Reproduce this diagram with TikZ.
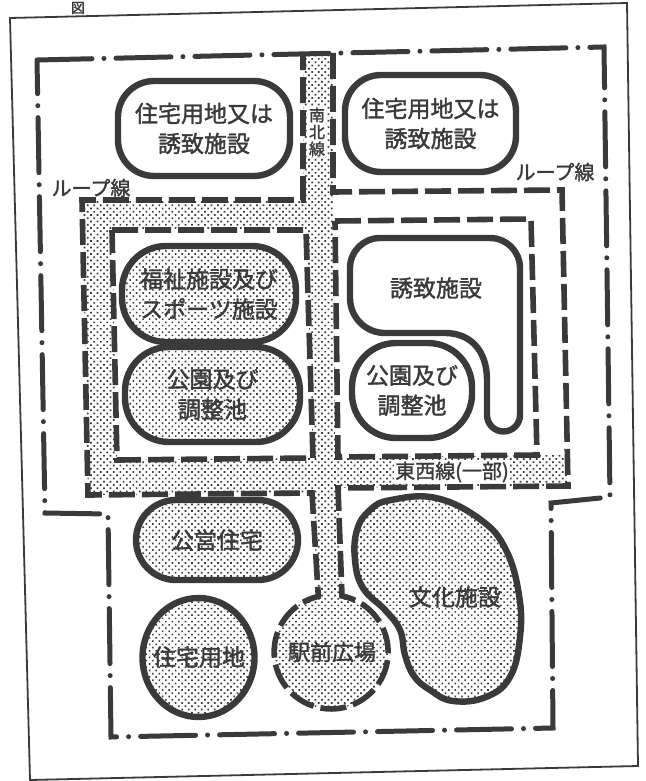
\documentclass[tikz,border=0pt]{standalone}
\usepackage{fontspec}
\newfontfamily\jp[FakeBold=1.6]{Noto Sans CJK JP}
\usetikzlibrary{patterns.meta}
\definecolor{ink}{RGB}{58,58,58}

\begin{document}
\begin{tikzpicture}[x=0.5pt, y=-0.5pt, ink, font=\jp,
        frame/.style={line width=0.9pt},
        boundary/.style={line width=2.5pt, line cap=round, dash pattern=on 27.5pt off 6pt on 0pt off 6pt},
        roadedge/.style={line width=2.8pt, dash pattern=on 13pt off 3.5pt},
        dotfill/.style={pattern={Dots[distance=2.3pt, radius=0.6pt, angle=45]}, pattern color=ink},
        lotbox/.style={draw, line width=3.2pt, align=center, inner sep=0pt, font=\jp\fontsize{11.5}{15}\selectfont},
        lottext/.style={align=center, inner sep=0pt, font=\jp\fontsize{11.5}{15}\selectfont},
        roadname/.style={inner sep=0.5pt, font=\jp\fontsize{10}{12}\selectfont}]

    \useasboundingbox (0,0) rectangle (645,781);

    % page frame and cut title
    \draw[frame] (10,18) -- (627,3) -- (638,766) -- (30,780) -- cycle;
    \node[inner sep=0pt, font=\jp\fontsize{7}{7}\selectfont] (title) at (78,8) {図};

    % roads (dotted)
    \path[dotfill, even odd rule]
        (303,54) -- (333,53) -- (335,457) -- (568,455) -- (568,486) -- (338,488) -- (342,596)
        -- (318,596) -- (312,493) -- (88,495) -- (82,200) -- (303,200) -- cycle
        (112,230) -- (306,230) -- (313,458) -- (117,460) -- cycle;
    \path[dotfill] (331,652) circle[radius=57];

    % road edges
    \draw[roadedge] (333,53) -- (333,192) -- (562,190) -- (568,486) -- (338,488) -- (342,596)
        arc[start angle=-79, end angle=257, radius=57] -- (312,493) -- (88,495) -- (82,200)
        -- (303,200) -- (303,54);
    \draw[roadedge] (112,230) -- (306,230) -- (313,458) -- (117,460) -- cycle;
    \draw[roadedge] (335,221) -- (531,219) -- (537,455) -- (338,457) -- cycle;

    % area boundary
    \draw[boundary] (37,60) -- (604,47) -- (610,497) -- (551,503) -- (553,728) -- (111,737)
        -- (108,514) -- (45,513) -- cycle;

    % lots
    \node[lotbox, fill=white, rounded corners=18pt, minimum width=86pt, minimum height=47.5pt] (homeW) at (204,128.5) {住宅用地又は\\誘致施設};
    \node[lotbox, fill=white, rounded corners=18pt, minimum width=85.5pt, minimum height=48.5pt] (homeE) at (430.5,123.5) {住宅用地又は\\誘致施設};
    \node[lotbox, dotfill, rounded corners=22pt, minimum width=87pt, minimum height=48pt] (welfare) at (209,294) {福祉施設及び\\スポーツ施設};
    \node[lotbox, dotfill, rounded corners=22pt, minimum width=87.5pt, minimum height=47.5pt] (parkW) at (212.5,394.5) {公園及び\\調整池};
    \node[lotbox, fill=white, rounded corners=22pt, minimum width=60pt, minimum height=47.5pt] (parkE) at (412,390.5) {公園及び\\調整池};
    \node[lotbox, dotfill, rounded corners=20pt, minimum width=81pt, minimum height=40pt] (public) at (217,540) {公営住宅};

    \draw[line width=3.2pt, fill=white] (350,298) -- (350,268) arc[start angle=180, end angle=270, radius=30]
        -- (490,238) arc[start angle=270, end angle=360, radius=30] -- (520,415)
        arc[start angle=0, end angle=180, radius=16.5] -- (487,380) .. controls (487,350) and (470,333) .. (445,333)
        -- (385,333) arc[start angle=90, end angle=180, radius=35] -- cycle;
    \node[lottext] (attract) at (436,288) {誘致施設};

    \draw[line width=3.2pt, dotfill] plot[smooth cycle, tension=0.7] coordinates {(391,500) (436,498) (481,520)
        (506,550) (519,595) (520,637) (510,677) (486,697) (453,701) (430,690) (414,676) (405,655)
        (400,630) (385,610) (363,588) (355,560) (357,530) (370,510)};
    \node[lottext] (culture) at (455,597) {文化施設};

    \draw[line width=3.2pt, dotfill] (198.5,657.5) ellipse[x radius=56, y radius=59.5];
    \node[lottext] (homeland) at (199,657) {住宅用地};
    \node[lottext, font=\jp\fontsize{11}{13}\selectfont] (station) at (332,652) {駅前広場};

    % road names
    \node[roadname] (loopW) at (91,188) {ループ線};
    \node[roadname] (loopE) at (555,172) {ループ線};
    \node[roadname, fill=white] (ewline) at (452,472) {東西線(一部)};
    \node[roadname, fill=white, align=center, font=\jp\fontsize{8}{8.5}\selectfont] (nsline) at (317,132) {南\\北\\線};
\end{tikzpicture}
\end{document}
